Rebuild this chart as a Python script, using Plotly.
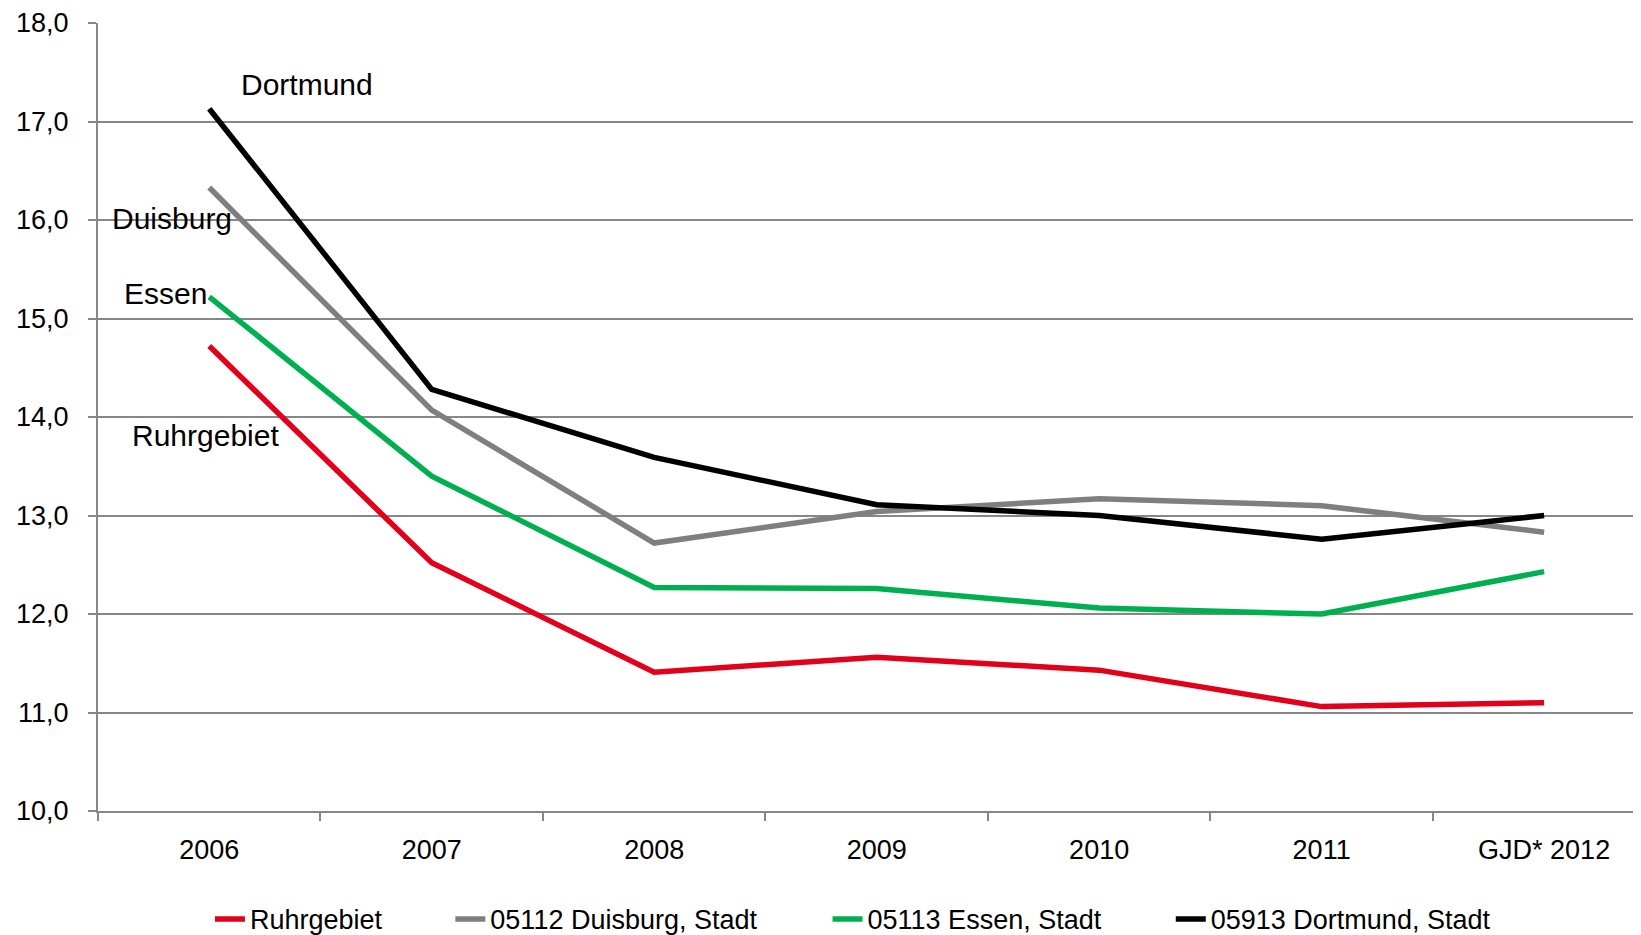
import plotly.graph_objects as go

categories = ["2006", "2007", "2008", "2009", "2010", "2011", "GJD* 2012"]

ruhrgebiet = [14.72, 12.52, 11.41, 11.56, 11.43, 11.06, 11.10]
duisburg = [16.33, 14.07, 12.72, 13.04, 13.17, 13.10, 12.83]
essen = [15.22, 13.40, 12.27, 12.26, 12.06, 12.00, 12.43]
dortmund = [17.13, 14.28, 13.59, 13.11, 13.00, 12.76, 13.00]

series_names = ["Ruhrgebiet", "05112 Duisburg, Stadt", "05113 Essen, Stadt", "05913 Dortmund, Stadt"]
series_values = [ruhrgebiet, duisburg, essen, dortmund]
series_colors = ["#E2001A", "#7F7F7F", "#00B050", "#000000"]
legend_ids = ["legend", "legend2", "legend3", "legend4"]
legend_x = [0.0725, 0.2282, 0.4725, 0.6948]

label_texts = ["Dortmund", "Duisburg", "Essen", "Ruhrgebiet"]
label_x = [0.439, -0.168, -0.198, -0.018]
label_y = [17.38, 16.02, 15.25, 13.81]

FONT = "Liberation Sans, Arial, sans-serif"
GRID = "#878787"

fig = go.Figure()
for name, vals, col, lid in zip(series_names, series_values, series_colors, legend_ids):
    fig.add_trace(go.Scatter(
        x=categories, y=vals, mode="lines", name=name,
        line=dict(color=col, width=5.5), legend=lid,
    ))

layout_legends = {}
for lid, lx in zip(legend_ids, legend_x):
    layout_legends[lid] = dict(
        orientation="h", x=lx, xanchor="left",
        yref="container", y=0.0253, yanchor="middle",
        font=dict(family=FONT, size=27, color="#000000"),
        bgcolor="rgba(0,0,0,0)", borderwidth=0,
    )

for t, ax, ay in zip(label_texts, label_x, label_y):
    fig.add_annotation(x=ax, y=ay, xref="x", yref="y", text=t, showarrow=False,
                       font=dict(family=FONT, size=30, color="#000000"),
                       xanchor="center", yanchor="middle")

fig.update_layout(
    width=1641, height=935,
    margin=dict(l=90, r=7, t=15, b=132, pad=0),
    paper_bgcolor="white", plot_bgcolor="white",
    separators=",.",
    showlegend=True,
    **layout_legends,
    xaxis=dict(
        type="category", range=[-0.5, 6.44], tickson="boundaries",
        ticks="outside", ticklen=8, tickwidth=2, tickcolor=GRID,
        showline=True, linecolor=GRID, linewidth=2, showgrid=False,
        tickfont=dict(family=FONT, size=27, color="#000000"),
        ticklabelstandoff=14, zeroline=False, automargin=False,
    ),
    yaxis=dict(
        range=[10, 18], dtick=1, tickformat=".1f",
        ticks="outside", ticklen=8, tickwidth=2, tickcolor=GRID,
        showline=True, linecolor=GRID, linewidth=2,
        showgrid=True, gridcolor=GRID, gridwidth=2, zeroline=False,
        tickfont=dict(family=FONT, size=27, color="#000000"),
        ticklabelstandoff=14, automargin=False,
    ),
)

fig.write_html("out.html")
